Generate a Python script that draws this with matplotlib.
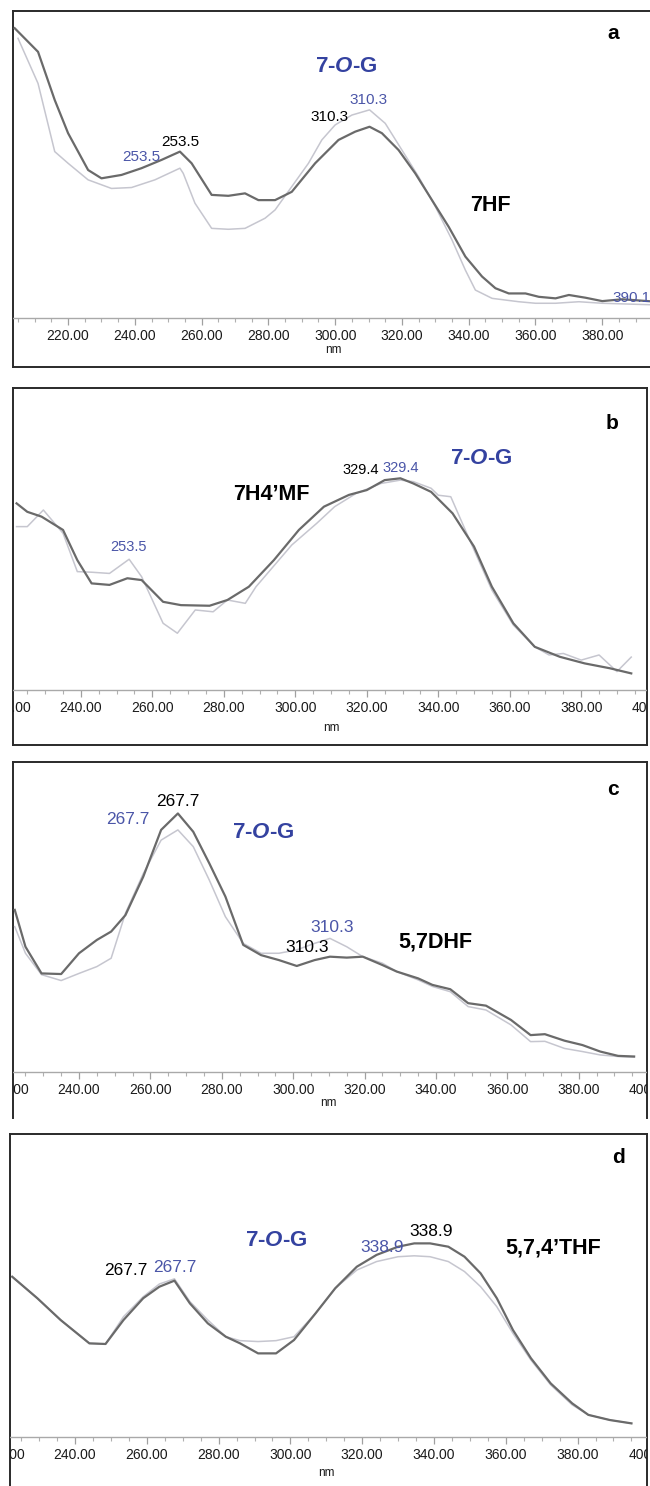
import matplotlib
matplotlib.use("Agg")
import matplotlib.pyplot as plt
from matplotlib.ticker import MultipleLocator, FormatStrFormatter

plt.rcParams['font.family'] = 'sans-serif'
plt.rcParams['font.sans-serif'] = ['Liberation Sans', 'DejaVu Sans']
plt.rcParams['mathtext.fontset'] = 'custom'
plt.rcParams['mathtext.rm'] = 'Liberation Sans'
plt.rcParams['mathtext.bfit'] = 'Liberation Sans:italic:bold'

# ---- spectra (normalised absorbance) ----
a_nm_dark = [204, 211, 216, 220, 226, 230, 236, 242, 248, 253.5, 257, 263, 268, 273, 277, 282, 287, 294, 301, 306,
             310.3, 314, 319, 324, 329, 334, 339, 344, 348, 352, 357, 361, 366, 370, 375, 380, 386, 395]
a_dark = [0.944, 0.867, 0.710, 0.602, 0.482, 0.455, 0.466, 0.488, 0.515, 0.542, 0.504, 0.401, 0.398, 0.406, 0.384,
          0.384, 0.411, 0.504, 0.580, 0.607, 0.623, 0.602, 0.547, 0.471, 0.384, 0.297, 0.200, 0.135, 0.097, 0.080,
          0.080, 0.069, 0.064, 0.075, 0.066, 0.055, 0.061, 0.054]
a_nm_light = [205, 211, 216, 220, 226, 233, 239, 246, 253.5, 254.5, 258, 263, 268, 273, 279, 282, 287, 292, 296, 300,
              305, 310.3, 315, 320, 325, 330, 335, 339, 342, 347, 355, 360, 366, 373, 380, 386, 395]
a_light = [0.911, 0.764, 0.542, 0.504, 0.450, 0.422, 0.425, 0.450, 0.488, 0.471, 0.374, 0.292, 0.289, 0.292, 0.325,
           0.352, 0.428, 0.504, 0.580, 0.629, 0.661, 0.678, 0.634, 0.547, 0.460, 0.363, 0.254, 0.156, 0.091, 0.064,
           0.053, 0.048, 0.048, 0.053, 0.048, 0.046, 0.043]

b_nm_dark = [222, 225, 229, 235, 239, 243, 248, 253, 257, 263, 268, 276, 281, 287, 294, 301, 308, 315, 320, 325,
             329.4, 333, 338, 344, 350, 355, 361, 367, 374, 381, 388, 394]
b_dark = [0.618, 0.590, 0.574, 0.530, 0.430, 0.353, 0.348, 0.370, 0.364, 0.292, 0.281, 0.279, 0.298, 0.342, 0.430,
          0.530, 0.607, 0.646, 0.662, 0.695, 0.701, 0.684, 0.656, 0.585, 0.475, 0.342, 0.221, 0.143, 0.110, 0.088,
          0.072, 0.055]
b_nm_light = [222, 225, 229.5, 235, 239, 243, 248, 253.5, 257, 263, 267, 272, 277, 281, 286, 289, 299, 306, 311, 317,
              324, 329.4, 333, 338, 340, 343.5, 350, 355, 361, 367, 371, 375, 380, 385, 390, 394]
b_light = [0.541, 0.541, 0.596, 0.519, 0.392, 0.390, 0.386, 0.433, 0.375, 0.221, 0.188, 0.265, 0.259, 0.298, 0.287,
           0.342, 0.480, 0.552, 0.607, 0.651, 0.684, 0.695, 0.690, 0.668, 0.645, 0.640, 0.464, 0.331, 0.215, 0.143,
           0.116, 0.121, 0.099, 0.116, 0.061, 0.109]

c_nm = [222, 225, 229.5, 235, 240, 245, 249, 253, 258, 263, 267.7, 272, 276.5, 281, 286, 291, 296, 301, 306, 310.3,
        315, 319.5, 325, 329, 335, 339, 344, 349, 354, 361, 366.5, 370.5, 376, 381, 386, 391, 395.5]
c_dark = [0.523, 0.404, 0.318, 0.316, 0.383, 0.426, 0.453, 0.506, 0.630, 0.781, 0.834, 0.775, 0.673, 0.566, 0.410,
          0.377, 0.361, 0.342, 0.361, 0.372, 0.369, 0.372, 0.345, 0.324, 0.302, 0.281, 0.267, 0.222, 0.214, 0.168,
          0.119, 0.122, 0.101, 0.087, 0.066, 0.052, 0.050]
c_light = [0.469, 0.383, 0.314, 0.295, 0.318, 0.340, 0.367, 0.512, 0.640, 0.748, 0.781, 0.727, 0.619, 0.501, 0.415,
           0.383, 0.383, 0.394, 0.415, 0.431, 0.404, 0.372, 0.351, 0.324, 0.297, 0.276, 0.259, 0.211, 0.200, 0.152,
           0.098, 0.099, 0.076, 0.066, 0.055, 0.050, 0.048]

d_nm = [222.5, 229.5, 236, 244, 248.5, 253.5, 259, 263.5, 267.7, 272, 277, 282, 286, 291, 296, 301, 307, 312.5,
        318.5, 324, 330, 334.5, 338.9, 344, 348.5, 353, 357.5, 362, 367, 372.5, 378.5, 383, 389, 395]
d_dark = [0.529, 0.458, 0.386, 0.309, 0.307, 0.386, 0.458, 0.496, 0.516, 0.441, 0.375, 0.331, 0.309, 0.276, 0.276,
          0.320, 0.408, 0.491, 0.562, 0.601, 0.628, 0.639, 0.639, 0.628, 0.595, 0.540, 0.458, 0.353, 0.260, 0.177,
          0.111, 0.073, 0.056, 0.045]
d_light = [0.529, 0.458, 0.386, 0.309, 0.307, 0.397, 0.463, 0.505, 0.522, 0.447, 0.386, 0.331, 0.318, 0.315, 0.318,
           0.331, 0.408, 0.491, 0.551, 0.579, 0.595, 0.598, 0.595, 0.579, 0.546, 0.496, 0.430, 0.342, 0.254, 0.172,
           0.106, 0.073, 0.056, 0.045]

DARK = '#6a6a6a'
LIGHT = '#c6c6cf'
BLUE = '#4b56a8'
GLY = '#3442a0'
GLY_TXT = r'7-$\mathbfit{O}$-G'

W, H = 650, 1486
fig = plt.figure(figsize=(W / 100, H / 100), dpi=100)


def rect(x0, y0, x1, y1):
    return [x0 / W, 1 - y1 / H, (x1 - x0) / W, (y1 - y0) / H]


# frame box (px), inner axes x extent (px) + xlim, axis-line y (px), nm offset (px)
panels = [
    dict(frame=(13, 11, 653, 367), inner_x=(13, 653), xlim=(203.5, 395.2), axis_y=318, bottom=True, nm_off=32,
         x_dark=a_nm_dark, dark=a_dark, x_light=a_nm_light, light=a_light,
         texts=[('a', 383.2, 0.928, 'k', 15, 'center', 'bold'),
                (GLY_TXT, 303.2, 0.818, GLY, 16, 'center', 'bold'),
                ('310.3', 310.1, 0.710, BLUE, 11, 'center', 'normal'),
                ('310.3', 298.4, 0.655, 'k', 11, 'center', 'normal'),
                ('253.5', 253.5, 0.573, 'k', 11, 'center', 'normal'),
                ('253.5', 241.9, 0.524, BLUE, 11, 'center', 'normal'),
                ('7HF', 346.6, 0.368, 'k', 15.5, 'center', 'bold'),
                ('390.1', 383.0, 0.065, BLUE, 11, 'left', 'normal')]),
    dict(frame=(13, 388, 647, 745), inner_x=(8.7, 653.4), xlim=(219.8, 400.2), axis_y=690, bottom=True, nm_off=38,
         x_dark=b_nm_dark, dark=b_dark, x_light=b_nm_light, light=b_light,
         texts=[('b', 388.5, 0.884, 'k', 15, 'center', 'bold'),
                (GLY_TXT, 352.0, 0.768, GLY, 16, 'center', 'bold'),
                ('329.4', 318.4, 0.728, 'k', 10.5, 'center', 'normal'),
                ('329.4', 329.4, 0.735, BLUE, 10.5, 'center', 'normal'),
                ('7H4\u2019MF', 293.2, 0.646, 'k', 15.5, 'center', 'bold'),
                ('253.5', 253.2, 0.474, BLUE, 10.5, 'center', 'normal')]),
    dict(frame=(13, 762, 647, 1118), inner_x=(6.9, 650.9), xlim=(219.8, 400.2), axis_y=1072, bottom=False,
         nm_off=31, x_dark=c_nm, dark=c_dark, x_light=c_nm, light=c_light,
         texts=[('c', 389.6, 0.910, 'k', 15, 'center', 'bold'),
                ('267.7', 267.7, 0.871, 'k', 12.5, 'center', 'normal'),
                ('267.7', 253.7, 0.813, BLUE, 12.5, 'center', 'normal'),
                (GLY_TXT, 291.5, 0.774, GLY, 16, 'center', 'bold'),
                ('310.3', 310.9, 0.465, BLUE, 12.5, 'center', 'normal'),
                ('310.3', 303.9, 0.403, 'k', 12.5, 'center', 'normal'),
                ('5,7DHF', 339.7, 0.419, 'k', 15.5, 'center', 'bold')]),
    dict(frame=(10, 1134, 647, 1490), inner_x=(2.5, 650.1), xlim=(219.8, 400.2), axis_y=1437, bottom=False,
         nm_off=36, x_dark=d_nm, dark=d_dark, x_light=d_nm, light=d_light,
         texts=[('d', 391.3, 0.921, 'k', 15, 'center', 'bold'),
                (GLY_TXT, 296.0, 0.650, GLY, 16, 'center', 'bold'),
                ('338.9', 339.2, 0.677, 'k', 12.5, 'center', 'normal'),
                ('338.9', 325.5, 0.627, BLUE, 12.5, 'center', 'normal'),
                ('5,7,4\u2019THF', 373.1, 0.624, 'k', 15.5, 'center', 'bold'),
                ('267.7', 254.2, 0.551, 'k', 12.5, 'center', 'normal'),
                ('267.7', 267.9, 0.561, BLUE, 12.5, 'center', 'normal')]),
]

for p in panels:
    x0, y0, x1, y1 = p['frame']
    frame = fig.add_axes(rect(x0, y0, x1, y1))
    frame.set_xticks([])
    frame.set_yticks([])
    for s in frame.spines.values():
        s.set_color('#2a2a2a')
        s.set_linewidth(1.4)
    if not p['bottom']:
        frame.spines['bottom'].set_visible(False)

    ix0, ix1 = p['inner_x']
    ax = fig.add_axes(rect(ix0, y0, ix1, p['axis_y']))
    ax.patch.set_alpha(0)
    ax.plot(p['x_light'], p['light'], color=LIGHT, lw=1.1, zorder=2)
    ax.plot(p['x_dark'], p['dark'], color=DARK, lw=1.6, zorder=3)
    ax.set_xlim(*p['xlim'])
    ax.set_ylim(0, 1)
    for side in ['top', 'left', 'right']:
        ax.spines[side].set_visible(False)
    ax.spines['bottom'].set_color('#a9a9a9')
    ax.spines['bottom'].set_linewidth(1.0)
    ax.spines['bottom'].set_clip_box(frame.bbox)
    ax.set_yticks([])
    ax.xaxis.set_major_locator(MultipleLocator(20))
    ax.xaxis.set_minor_locator(MultipleLocator(5))
    ax.xaxis.set_major_formatter(FormatStrFormatter('%.2f'))
    ax.tick_params(axis='x', which='major', length=5, width=0.9, color='#a0a0a0',
                   labelsize=10, labelcolor='#1a1a1a', pad=3)
    ax.tick_params(axis='x', which='minor', length=3, width=0.8, color='#b0b0b0')
    # edge labels are cut by the frame, as in the instrument printout
    for tick in ax.xaxis.get_major_ticks() + ax.xaxis.get_minor_ticks():
        for art in (tick.label1, tick.tick1line):
            art.set_clip_box(frame.bbox)
            art.set_clip_on(True)
    ax.set_xlabel('nm', fontsize=8.5, color='#1a1a1a')
    h_px = p['axis_y'] - y0
    ax.xaxis.set_label_coords(0.5, -p['nm_off'] / h_px)
    ax.xaxis.label.set_va('center')

    for txt, tx, ty, col, size, ha, weight in p['texts']:
        ax.text(tx, ty, txt, color=col, fontsize=size, ha=ha, va='center',
                fontweight=weight, clip_on=False, zorder=5)

fig.savefig('out.png', dpi=100)
